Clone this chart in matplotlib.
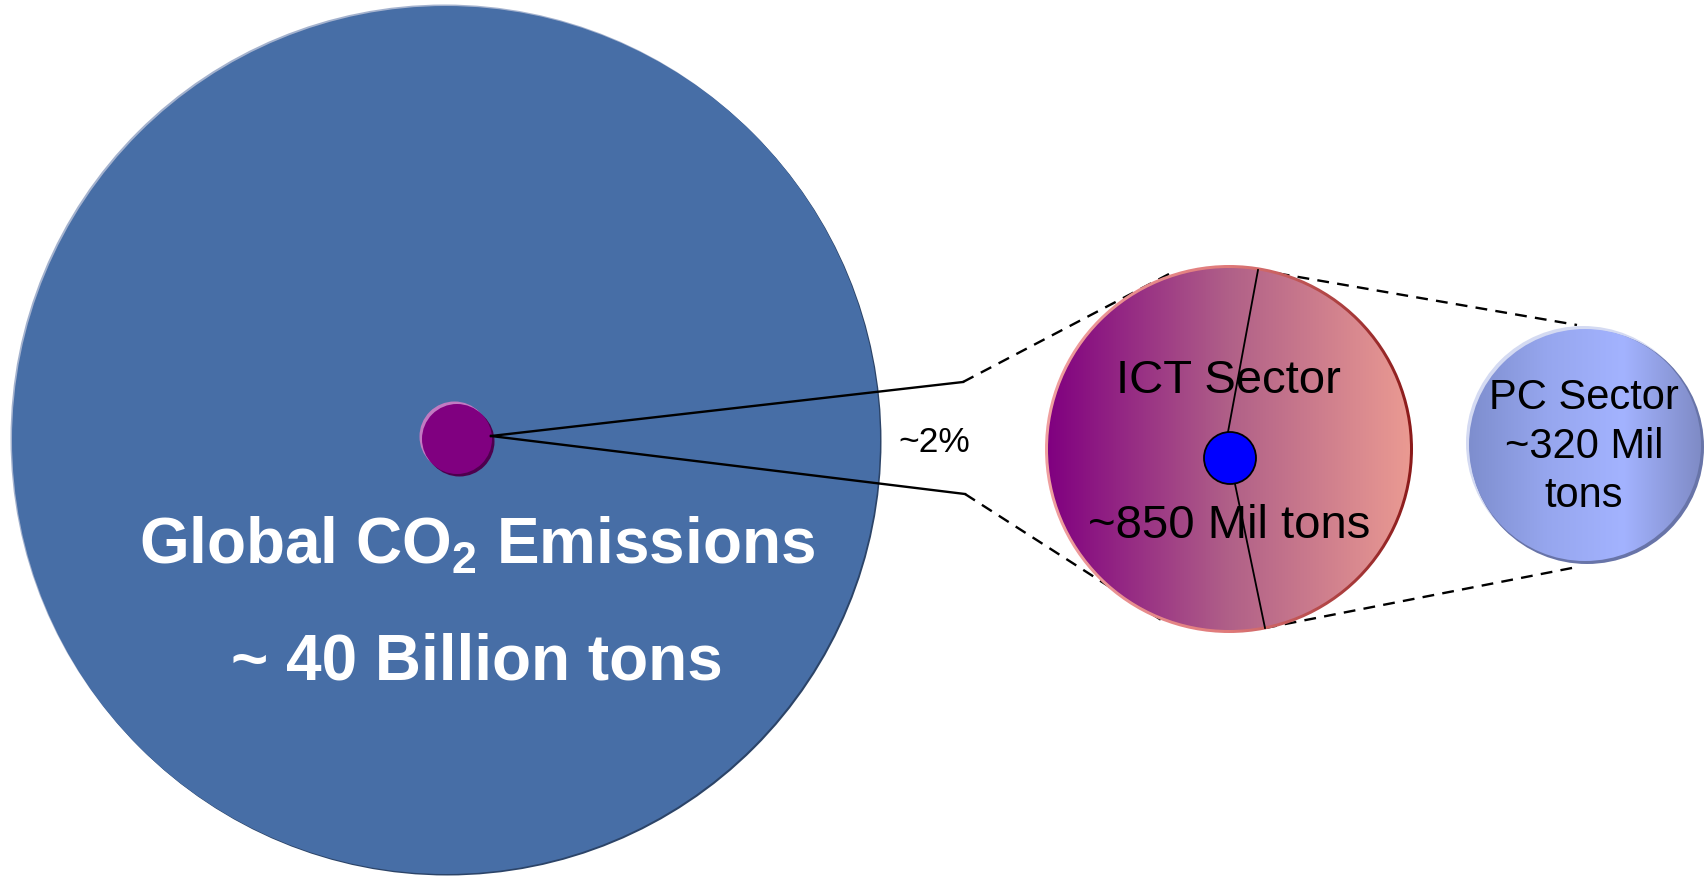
import matplotlib.pyplot as plt
import numpy as np
from matplotlib.patches import Circle
from matplotlib.colors import LinearSegmentedColormap

plt.rcParams['font.family'] = ['Liberation Sans', 'DejaVu Sans']
plt.rcParams['mathtext.fontset'] = 'custom'
plt.rcParams['mathtext.rm'] = 'Liberation Sans'
plt.rcParams['mathtext.bf'] = 'Liberation Sans:bold'

# chart text / values
global_lines = ['Global CO$_\\mathbf{2}$ Emissions', '~ 40 Billion tons']
ict_share = '~2%'
sector_names = ['ICT Sector', 'PC Sector']
sector_values = ['~850 Mil tons', '~320 Mil\ntons']

W, H = 1705, 876


def bevel_circle(ax, xy, r, fill, light, dark, off, z):
    '''
    Flat circle with a light rim up-left and a dark rim down-right.
    '''
    x, y = xy
    ax.add_patch(Circle((x - off, y - off), r, facecolor=light, edgecolor='none', zorder=z))
    ax.add_patch(Circle((x + off, y + off), r, facecolor=dark, edgecolor='none', zorder=z))
    ax.add_patch(Circle((x, y), r, facecolor=fill, edgecolor='none', zorder=z + 0.1))


def gradient_circle(ax, xy, r, colors, z):
    '''
    Circle filled with a left-to-right colour gradient.
    '''
    x, y = xy
    circ = Circle((x, y), r, facecolor='none', edgecolor='none', zorder=z)
    ax.add_patch(circ)
    cmap = LinearSegmentedColormap.from_list('grad', colors)
    grad = np.linspace(0, 1, 256)[None, :]
    im = ax.imshow(grad, cmap=cmap, extent=(x - r, x + r, y + r, y - r),
                   aspect='auto', interpolation='bilinear', zorder=z)
    im.set_clip_path(circ)


fig = plt.figure(figsize=(W / 100, H / 100), dpi=100)
ax = fig.add_axes([0, 0, 1, 1])

# big global circle
bevel_circle(ax, (446, 440), 434, '#476EA6', '#A4B2CE', '#2C4468', 1.5, 1)
# small purple circle (ICT share)
bevel_circle(ax, (457, 439), 35, '#800080', '#C27AC2', '#4E004E', 2.5, 2)

# ICT circle: rim then gradient fill
gradient_circle(ax, (1229, 449), 184, ['#F0A0A0', '#E07A7A', '#8B1A1A'], 3)
gradient_circle(ax, (1229, 449), 181, ['#800080', '#B06088', '#EA9A92'], 3.1)

# PC circle
ax.add_patch(Circle((1583, 443), 117, facecolor='#D4DAF2', edgecolor='none', zorder=3))
ax.add_patch(Circle((1587, 447), 117, facecolor='#6874A8', edgecolor='none', zorder=3))
gradient_circle(ax, (1585, 445), 116, ['#7E8ECE', '#96A6EE', '#A3B3FF', '#7F8BC6'], 3.2)

# blue PC dot inside ICT circle
ax.add_patch(Circle((1230, 458), 26, facecolor='#0000FF', edgecolor='black', lw=1.3, zorder=6))

# connector lines
ax.plot([491, 963], [436, 382], color='black', lw=1.7, zorder=5)
ax.plot([491, 965], [436, 494], color='black', lw=1.7, zorder=5)
ax.plot([963, 1169], [382, 274], color='black', lw=1.7, ls=(0, (5, 3.5)), zorder=2.5)
ax.plot([965, 1166], [494, 623], color='black', lw=1.7, ls=(0, (5, 3.5)), zorder=2.5)
ax.plot([1258, 1228], [270, 432], color='black', lw=1.3, zorder=5)
ax.plot([1235, 1265], [484, 628], color='black', lw=1.3, zorder=5)
ax.plot([1258, 1577], [270, 325], color='black', lw=1.7, ls=(0, (5, 3.5)), zorder=2.5)
ax.plot([1265, 1577], [628, 567], color='black', lw=1.7, ls=(0, (5, 3.5)), zorder=2.5)

# texts
ax.text(477, 563, global_lines[0], color='white', fontsize=46, fontweight='bold',
        ha='center', va='baseline', zorder=7)
ax.text(477, 680, global_lines[1], color='white', fontsize=46, fontweight='bold',
        ha='center', va='baseline', zorder=7)
ax.text(934, 443, ict_share, fontsize=25.5, ha='center', va='center', zorder=7)
ax.text(1228, 381, sector_names[0], fontsize=34, ha='center', va='center', zorder=7)
ax.text(1229, 526, sector_values[0], fontsize=34, ha='center', va='center', zorder=7)
ax.text(1584, 447, sector_names[1] + '\n' + sector_values[1], fontsize=30,
        ha='center', va='center', linespacing=1.3, zorder=7)

ax.set_xlim(0, W)
ax.set_ylim(H, 0)
ax.axis('off')
fig.savefig('out.png', dpi=100)
